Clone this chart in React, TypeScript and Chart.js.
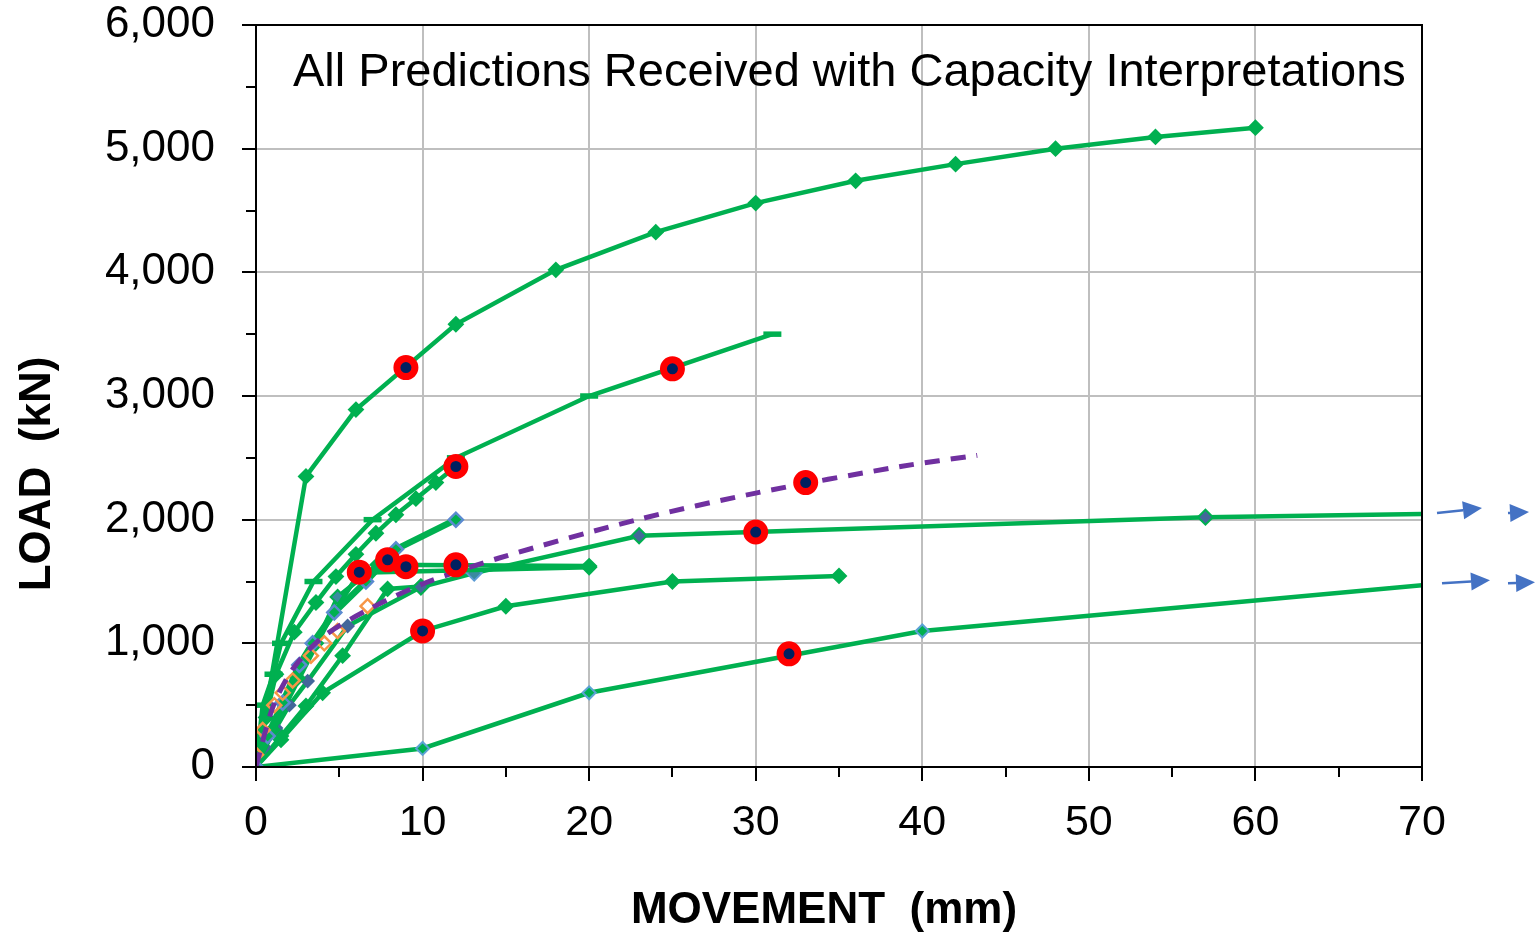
import React, { useEffect, useRef } from 'react';
import { Chart, registerables } from 'chart.js';

Chart.register(...registerables);

// ---- data: [movement (mm), load (kN)] ----
const seriesTop = [[0, 0], [3, 2350], [6, 2890], [12, 3580], [18, 4020], [24, 4325], [30, 4560], [36, 4740], [42, 4875], [48, 5000], [54, 5095], [60, 5170]];
const seriesDash = [[0, 0], [0.2, 250], [0.4, 500], [1.05, 750], [1.5, 1000], [3.45, 1500], [7, 2000], [12, 2500], [20, 3000], [31, 3500]];
const seriesDiamond = [[0, 0], [0.6, 400], [1.2, 750], [2.3, 1090], [3.6, 1330], [4.8, 1540], [6, 1720], [7.2, 1890], [8.4, 2040], [9.6, 2170], [10.8, 2300], [12, 2430]];
const seriesThick = [[0, 0], [0.7, 250], [1.6, 520], [2.6, 825], [3.4, 1000], [4.7, 1250], [6.6, 1500], [8.4, 1760], [12, 2000]];
const seriesFlatA = [[0, 0], [2, 560], [4.4, 1190], [6.2, 1570], [20, 1615]];
const seriesFlatB = [[0, 0], [1, 300], [2.5, 720], [3.6, 1000], [4.9, 1375], [7.3, 1635], [20, 1625]];
const seriesLong = [[0, 0], [0.5, 160], [1.2, 315], [2, 500], [3.1, 695], [5.5, 1140], [9.9, 1455], [13.1, 1568], [23, 1870], [57, 2020], [70, 2045]];
const seriesMid = [[0, 0], [1.5, 250], [3, 493], [5.2, 900], [7.9, 1440], [9.9, 1460]];
const series35 = [[0, 0], [1.5, 220], [4, 600], [10, 1100], [15, 1300], [25, 1500], [35, 1545]];
const seriesLow = [[0, 0], [10, 150], [20, 600], [40, 1100], [70, 1470]];
const seriesOrange = [[0, 100], [0.4, 300], [1.1, 500], [1.6, 600], [2.2, 700], [3.3, 900], [4.1, 1000], [4.9, 1100], [6.7, 1300]];
const seriesPurple = [[0, 0], [1, 480], [2.2, 790], [4, 1050], [6.7, 1270], [10, 1480], [14.6, 1690], [22.9, 2000], [30, 2215], [38.7, 2430], [43.3, 2520]];
const capacityPoints = [[9, 3230], [25, 3220], [12, 2430], [33, 2300], [30, 1900], [6.2, 1575], [7.9, 1675], [9, 1620], [12, 1635], [10, 1100], [32, 915]];

const xTickValues = [0, 10, 20, 30, 40, 50, 60, 70];
const yTickValues = [0, 1000, 2000, 3000, 4000, 5000, 6000];

const titleText = 'All Predictions Received with Capacity Interpretations';
const xTitle = 'MOVEMENT  (mm)';
const yTitle = 'LOAD  (kN)';

const GREEN = '#00B050';
const BLUEGRAY = '#44679A';
const TEAL = '#3A8AA0';
const BLUE = '#4472C4';
const FONT = '"Liberation Sans", Arial, sans-serif';

const pts = (arr: number[][]) => arr.map(([x, y]) => ({ x, y }));

function lineSet(arr: number[][], extra: any = {}) {
  return {
    data: pts(arr),
    borderColor: GREEN,
    borderWidth: 4.5,
    tension: 0,
    fill: false,
    pointStyle: 'rectRot',
    pointRadius: 7,
    pointBackgroundColor: GREEN,
    pointBorderColor: GREEN,
    pointBorderWidth: 2,
    ...extra,
  };
}

function drawArrow(ctx: CanvasRenderingContext2D, x1: number, y1: number, x2: number, y2: number) {
  const ang = Math.atan2(y2 - y1, x2 - x1);
  const hl = 19;
  const hw = 9;
  const bx = x2 - hl * Math.cos(ang);
  const by = y2 - hl * Math.sin(ang);
  ctx.beginPath();
  ctx.moveTo(x1, y1);
  ctx.lineTo(bx, by);
  ctx.stroke();
  ctx.beginPath();
  ctx.moveTo(x2, y2);
  ctx.lineTo(bx - hw * Math.sin(ang), by + hw * Math.cos(ang));
  ctx.lineTo(bx + hw * Math.sin(ang), by - hw * Math.cos(ang));
  ctx.closePath();
  ctx.fill();
}

const decorPlugin = {
  id: 'decor',
  afterDraw(chart: any) {
    const { ctx, chartArea: a, scales } = chart;
    const xs = scales.x;
    const ys = scales.y;
    ctx.save();
    // frame
    ctx.strokeStyle = '#000';
    ctx.lineWidth = 2;
    ctx.strokeRect(a.left, a.top, a.right - a.left, a.bottom - a.top);
    // ticks
    ctx.beginPath();
    for (let v = 0; v <= 6000; v += 500) {
      const y = Math.round(ys.getPixelForValue(v));
      const len = v % 1000 === 0 ? 14 : 10;
      ctx.moveTo(a.left - len, y);
      ctx.lineTo(a.left, y);
    }
    for (let v = 0; v <= 70; v += 5) {
      const x = Math.round(xs.getPixelForValue(v));
      const len = v % 10 === 0 ? 14 : 10;
      ctx.moveTo(x, a.bottom);
      ctx.lineTo(x, a.bottom + len);
    }
    ctx.stroke();
    // in-plot title
    ctx.fillStyle = '#000';
    ctx.font = `47px ${FONT}`;
    ctx.textAlign = 'left';
    ctx.textBaseline = 'alphabetic';
    ctx.fillText(titleText, a.left + 37, a.top + 61);
    // axis titles
    ctx.font = `bold 44px ${FONT}`;
    ctx.textAlign = 'center';
    ctx.fillText(xTitle, a.left + 568, a.bottom + 156);
    ctx.save();
    ctx.translate(50, a.top + 449);
    ctx.rotate(-Math.PI / 2);
    ctx.fillText(yTitle, 0, 0);
    ctx.restore();
    // arrows beyond the axis for the two long curves
    ctx.strokeStyle = BLUE;
    ctx.fillStyle = BLUE;
    ctx.lineWidth = 2.5;
    const yA = ys.getPixelForValue(seriesLong[seriesLong.length - 1][1]);
    const yB = ys.getPixelForValue(seriesLow[seriesLow.length - 1][1]);
    drawArrow(ctx, a.right + 15, yA - 1, a.right + 60, yA - 6);
    drawArrow(ctx, a.right + 86, yA - 1, a.right + 107, yA - 2);
    drawArrow(ctx, a.right + 20, yB - 2, a.right + 68, yB - 5);
    drawArrow(ctx, a.right + 86, yB - 2, a.right + 113, yB - 3);
    ctx.restore();
  },
};

export default function App() {
  const ref = useRef<HTMLCanvasElement | null>(null);

  useEffect(() => {
    if (!ref.current) return;

    const longRadius = seriesLong.map(([x]) => (x >= 70 ? 0 : x < 9 ? 6 : 7.5));
    const longFill = seriesLong.map(([x]) => (x === 13.1 ? TEAL : BLUEGRAY));
    const longBorder = seriesLong.map(([x]) => (x === 13.1 ? '#5B9BD5' : x < 9 ? BLUEGRAY : GREEN));
    const lowRadius = seriesLow.map(([x]) => (x >= 70 ? 0 : 6.5));
    const midFill = seriesMid.map(([x]) => (x === 9.9 ? BLUEGRAY : GREEN));

    const datasets: any[] = [
      {
        data: pts(capacityPoints),
        showLine: false,
        pointStyle: 'circle',
        pointRadius: 9,
        pointBackgroundColor: '#002060',
        pointBorderColor: '#FF0000',
        pointBorderWidth: 7,
      },
      {
        data: pts(seriesPurple),
        borderColor: '#7030A0',
        borderWidth: 5,
        borderDash: [15, 11],
        tension: 0.3,
        pointRadius: 0,
        fill: false,
      },
      {
        data: pts(seriesOrange),
        showLine: false,
        pointStyle: 'rectRot',
        pointRadius: 7,
        pointBackgroundColor: 'rgba(0,0,0,0)',
        pointBorderColor: '#F79646',
        pointBorderWidth: 2.5,
      },
      lineSet(seriesThick, { borderWidth: 6.5, pointBorderColor: '#5B8BD0', pointBorderWidth: 2.5 }),
      lineSet(seriesTop),
      lineSet(seriesDash, { pointStyle: 'line', pointRadius: 9, pointBorderWidth: 5.5 }),
      lineSet(seriesDiamond),
      lineSet(seriesFlatA, { pointRadius: seriesFlatA.map(([x]) => (x === 20 ? 7 : 0)) }),
      lineSet(seriesFlatB, { pointBackgroundColor: seriesFlatB.map(([x]) => (x === 4.9 ? TEAL : GREEN)) }),
      lineSet(seriesLong, { pointRadius: longRadius, pointBackgroundColor: longFill, pointBorderColor: longBorder }),
      lineSet(seriesMid, { pointBackgroundColor: midFill }),
      lineSet(series35),
      lineSet(seriesLow, { pointRadius: lowRadius, pointBorderColor: seriesLow.map(([x]) => (x === 0 ? GREEN : '#5BA3D5')) }),
    ];

    const chart = new Chart(ref.current, {
      type: 'line',
      data: { datasets },
      options: {
        animation: false,
        responsive: false,
        devicePixelRatio: 1,
        layout: { padding: { top: 25, right: 115, left: 0, bottom: 0 }, autoPadding: false },
        plugins: { legend: { display: false }, tooltip: { enabled: false } },
        scales: {
          x: {
            type: 'linear',
            min: 0,
            max: 70,
            afterBuildTicks: (s: any) => { s.ticks = xTickValues.map((v) => ({ value: v })); },
            ticks: {
              autoSkip: false,
              maxRotation: 0,
              padding: 30,
              color: '#000',
              font: { family: FONT, size: 43 },
              callback: (v: any) => String(v),
            },
            grid: { color: '#BFBFBF', lineWidth: 2, drawTicks: false },
            border: { color: '#000', width: 2 },
            afterFit: (s: any) => {
              s.height = 166;
              s.paddingLeft = 0;
              s.paddingRight = 0;
              s.paddingTop = 0;
              s.paddingBottom = 0;
            },
          },
          y: {
            type: 'linear',
            min: 0,
            max: 6000,
            afterBuildTicks: (s: any) => { s.ticks = yTickValues.map((v) => ({ value: v })); },
            ticks: {
              autoSkip: false,
              padding: 41,
              color: '#000',
              font: { family: FONT, size: 44 },
              callback: (v: any) => Number(v).toLocaleString('en-US'),
            },
            grid: { color: '#BFBFBF', lineWidth: 2, drawTicks: false },
            border: { color: '#000', width: 2 },
            afterFit: (s: any) => {
              s.width = 256;
              s.paddingTop = 0;
              s.paddingBottom = 0;
              s.paddingLeft = 0;
              s.paddingRight = 0;
            },
          },
        },
      } as any,
      plugins: [decorPlugin],
    });
    return () => chart.destroy();
  }, []);

  return (
    <div style={{ position: 'absolute', left: 0, top: 0, width: 1537, height: 933, background: '#fff' }}>
      <canvas ref={ref} width={1537} height={933} style={{ width: 1537, height: 933, display: 'block' }} />
    </div>
  );
}
